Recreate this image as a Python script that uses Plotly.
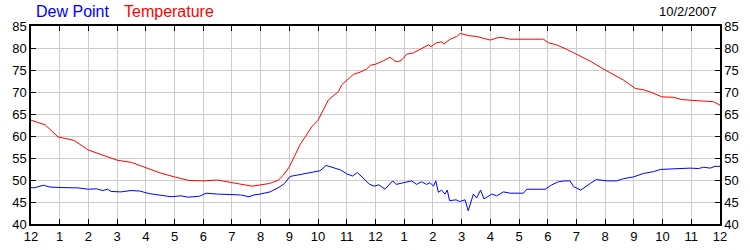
import plotly.graph_objects as go

# Hours since midnight (0..24)
temp_hours = [0, 0.3, 0.5, 0.94, 1.5, 2.0, 2.5, 3.0, 3.5, 4.0, 4.5, 5.0, 5.5, 6.0, 6.5, 7.0, 7.5, 7.7,
              8.0, 8.3, 8.6, 8.79, 9.0, 9.37, 9.78, 10.0, 10.36, 10.71, 10.82, 11.0, 11.23, 11.46, 11.69,
              11.83, 12.0, 12.28, 12.51, 12.68, 12.8, 12.92, 13.09, 13.32, 13.55, 13.85, 13.93, 14.13,
              14.31, 14.38, 14.6, 14.83, 14.95, 15.07, 15.25, 15.53, 16.0, 16.23, 16.4, 16.68, 17.85,
              18.02, 18.31, 18.66, 19.01, 19.48, 20.0, 20.4, 20.64, 21.05, 21.34, 21.57, 21.97, 22.37,
              22.66, 23.02, 23.43, 23.77, 24.0]
temperature = [63.6, 63.0, 62.5, 59.8, 59.0, 56.8, 55.6, 54.5, 54.0, 52.8, 51.6, 50.7, 49.9, 49.8, 50.0,
               49.4, 48.8, 48.6, 48.9, 49.2, 49.9, 51.1, 53.0, 58.0, 62.1, 63.6, 68.2, 70.1, 71.6, 72.7,
               74.0, 74.5, 75.2, 76.1, 76.3, 77.1, 77.9, 77.0, 76.9, 77.3, 78.6, 78.9, 79.7, 80.7, 80.3,
               81.2, 81.4, 80.9, 82.0, 82.6, 83.3, 83.1, 82.8, 82.6, 81.8, 82.3, 82.4, 82.0, 82.0,
               81.2, 80.7, 79.7, 78.6, 77.0, 75.0, 73.6, 72.7, 70.8, 70.5, 70.0, 68.9, 68.8,
               68.3, 68.1, 67.9, 67.8, 67.0]

dew_hours = [0, 0.1, 0.43, 0.66, 0.95, 1.3, 1.64, 2.0, 2.28, 2.5, 2.67, 2.79, 3.13, 3.48, 3.78, 4.12,
             4.41, 4.88, 5.23, 5.46, 5.87, 6.1, 6.5, 6.85, 7.3, 7.59, 7.77, 7.98, 8.33, 8.68, 8.83,
             9.02, 9.25, 9.48, 9.71, 10.07, 10.28, 10.54, 10.78, 11.0, 11.2, 11.37, 11.55, 11.78,
             11.95, 12.12, 12.33, 12.6, 12.72, 12.98, 13.26, 13.43, 13.6, 13.78, 13.9, 14.02, 14.1,
             14.19, 14.3, 14.42, 14.5, 14.58, 14.81, 14.93, 15.12, 15.23, 15.41, 15.52, 15.66, 15.78,
             15.93, 16.05, 16.22, 16.46, 16.69, 17.15, 17.27, 17.91, 18.14, 18.37, 18.6, 18.78, 18.9,
             19.15, 19.48, 19.69, 20.06, 20.4, 20.64, 20.99, 21.34, 21.69, 21.92, 22.38, 22.96,
             23.25, 23.43, 23.66, 23.83, 24.0]
dew_point = [48.3, 48.2, 48.8, 48.4, 48.3, 48.2, 48.2, 47.9, 48.0, 47.6, 47.9, 47.4, 47.3, 47.6, 47.5,
             46.9, 46.6, 46.2, 46.4, 46.1, 46.3, 47.0, 46.8, 46.7, 46.6, 46.2, 46.6, 46.8, 47.3, 48.5,
             49.2, 50.8, 51.1, 51.4, 51.7, 52.1, 53.3, 52.7, 52.3, 51.4, 50.9, 51.7, 50.5, 49.1,
             48.6, 48.9, 47.9, 49.8, 49.0, 49.4, 49.8, 49.0, 49.6, 49.0, 49.4, 48.6, 49.8,
             47.2, 47.7, 46.8, 47.7, 45.3, 45.5, 45.1, 45.5, 43.0, 46.8, 45.9, 47.7, 45.7,
             46.3, 46.8, 46.4, 47.3, 47.0, 47.0, 47.9, 47.9, 48.9, 49.6, 49.8, 49.8, 48.5,
             47.7, 49.2, 50.1, 49.8, 49.8, 50.3, 50.7, 51.5, 51.9, 52.4, 52.6, 52.7,
             52.6, 52.9, 52.7, 53.1, 53.1]

x_tickvals = list(range(0, 25))
x_ticktext = ["12", "1", "2", "3", "4", "5", "6", "7", "8", "9", "10", "11",
              "12", "1", "2", "3", "4", "5", "6", "7", "8", "9", "10", "11", "12"]
y_tickvals = [40, 45, 50, 55, 60, 65, 70, 75, 80, 85]

FONT = "Liberation Sans, Arial, sans-serif"
L, R, T, B = 31, 30, 26, 26
W, H = 750, 250

fig = go.Figure()
fig.add_trace(go.Scatter(x=dew_hours, y=dew_point, mode="lines", name="Dew Point",
                         line=dict(color="#0000ff", width=1), showlegend=False))
fig.add_trace(go.Scatter(x=temp_hours, y=temperature, mode="lines", name="Temperature",
                         line=dict(color="#ff0000", width=1), showlegend=False))
fig.add_trace(go.Scatter(x=[None], y=[None], yaxis="y2", mode="lines", showlegend=False,
                         hoverinfo="skip"))

axis_common = dict(showline=True, linecolor="black", linewidth=1.5, ticks="inside",
                   ticklen=5, tickcolor="black", tickwidth=1, zeroline=False,
                   automargin=False,
                   tickfont=dict(family=FONT, size=13, color="black"))

fig.update_layout(
    width=W, height=H,
    margin=dict(l=L, r=R, t=T, b=B, autoexpand=False),
    paper_bgcolor="white", plot_bgcolor="white",
    xaxis=dict(range=[0, 24], tickvals=x_tickvals, ticktext=x_ticktext, mirror="ticks",
               gridcolor="#cccccc", gridwidth=1, **axis_common),
    yaxis=dict(range=[40, 85], tickvals=y_tickvals, mirror="ticks",
               gridcolor="#cccccc", gridwidth=1, **axis_common),
    yaxis2=dict(range=[40, 85], tickvals=y_tickvals, overlaying="y", side="right",
                showgrid=False, **axis_common),
)

pw = W - L - R
ph = H - T - B
titles = [("Dew Point", 34, "#0000ff", 16, "left"),
          ("Temperature", 122, "#ff0000", 16, "left"),
          ("10/2/2007", 719, "black", 13, "right")]
fig.update_layout(annotations=[
    dict(text=t, x=(px - L) / pw, y=(H - B - 12) / ph, xref="paper", yref="paper",
         showarrow=False, xanchor=anchor, yanchor="middle",
         font=dict(family=FONT, size=size, color=color))
    for t, px, color, size, anchor in titles
])

fig.write_html("out.html")
